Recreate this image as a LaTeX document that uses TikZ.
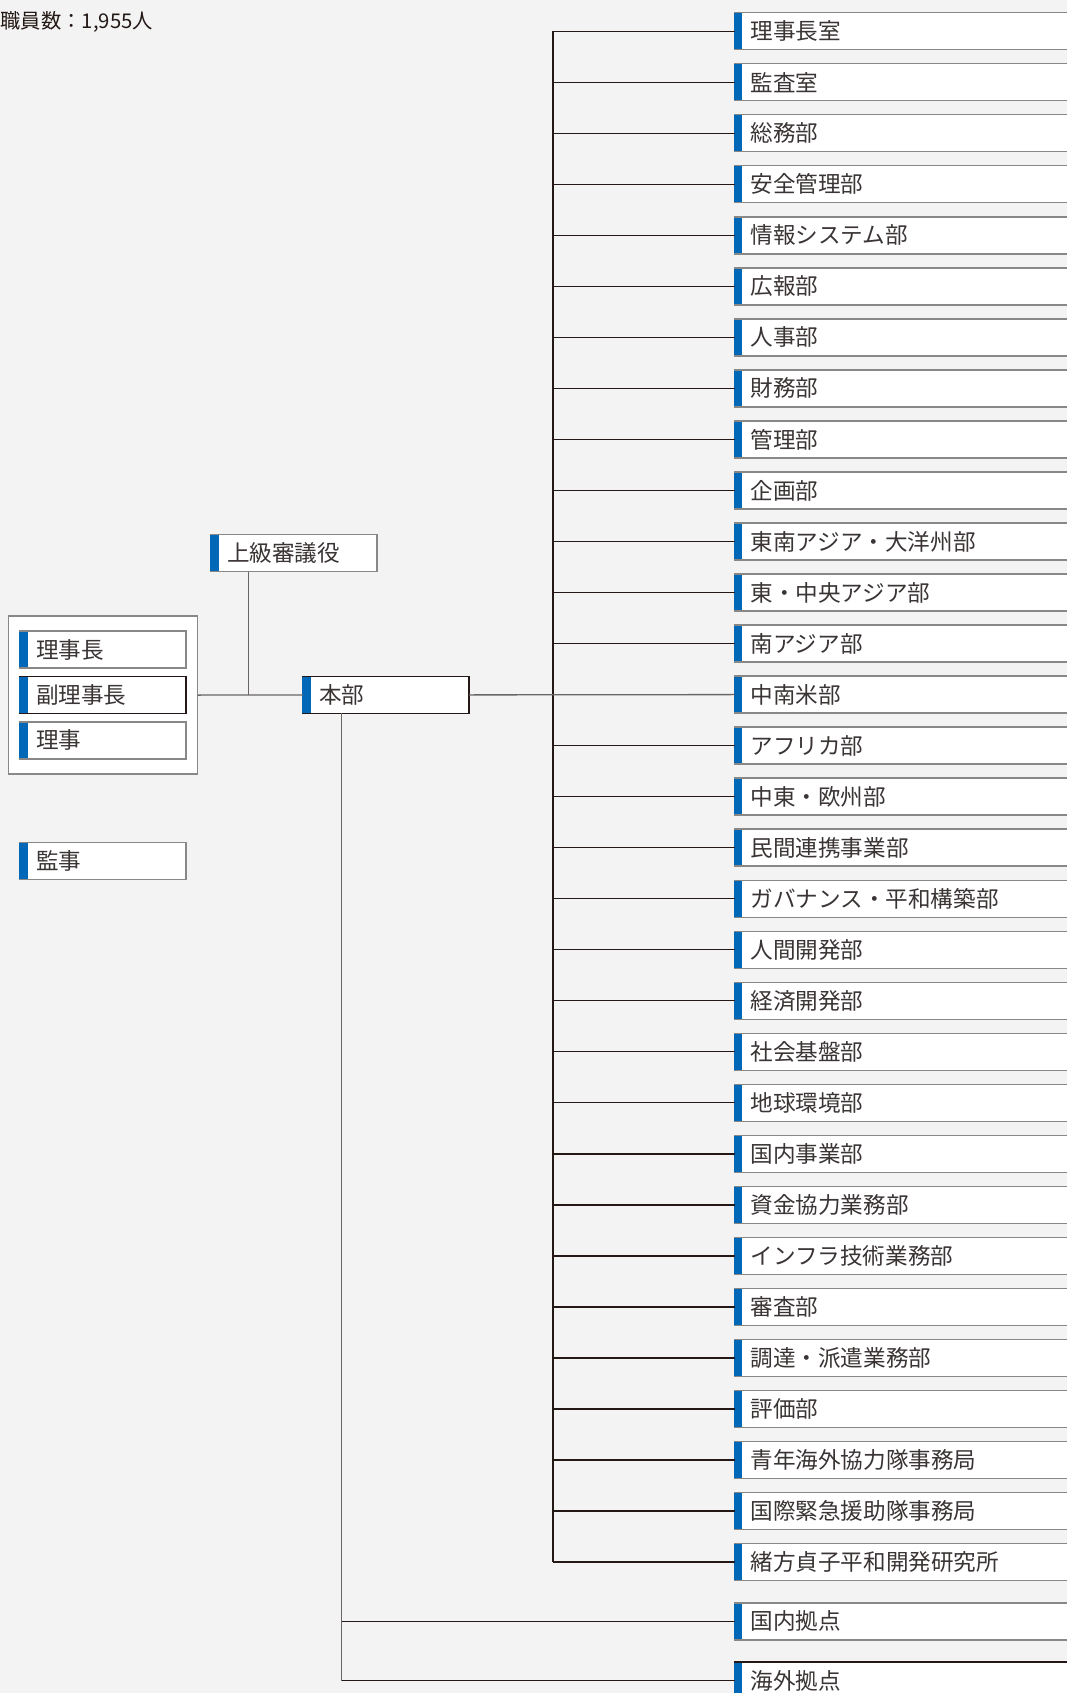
\documentclass[tikz,border=0pt]{standalone}
\usepackage{fontspec}
\setmainfont{Noto Sans CJK JP}
\definecolor{bg}{HTML}{F2F3F2}
\definecolor{jblue}{HTML}{0068B7}
\definecolor{bgray}{HTML}{8A8787}
\definecolor{ink}{HTML}{231815}
\definecolor{lgray}{HTML}{6A6666}
\definecolor{txt}{HTML}{3A3434}
\begin{document}
\begin{tikzpicture}[x=1pt,y=-1pt,
  box/.style={draw=bgray, line width=1.4pt, fill=white, outer sep=0pt,
    minimum height=37pt, inner xsep=16pt, inner ysep=0pt, align=left,
    anchor=west, text=txt, font=\fontsize{22.6}{23}\selectfont},
  rbox/.style={box, text width=330pt},
  lbox/.style={box, text width=134pt},
  dbox/.style={lbox, draw=ink},
  rline/.style={draw=ink, line width=1.3pt},
  lline/.style={draw=lgray, line width=1.3pt}]
\useasboundingbox (0,0) rectangle (1067,1693);
\fill[bg] (0,0) rectangle (1067,1693);
\clip (0,0) rectangle (1067,1693);

\node[anchor=west, inner sep=0pt, text=ink, font=\fontsize{20.3}{21}\selectfont] (staff) at (0.5,21.5) {職員数：1,955人};

% right column
\foreach \t [count=\i from 0] in {理事長室,監査室,総務部,安全管理部,情報システム部,広報部,人事部,財務部,管理部,企画部,東南アジア・大洋州部,東・中央アジア部,南アジア部,中南米部,アフリカ部,中東・欧州部,民間連携事業部,ガバナンス・平和構築部,人間開発部,経済開発部,社会基盤部,地球環境部,国内事業部,資金協力業務部,インフラ技術業務部,審査部,調達・派遣業務部,評価部,青年海外協力隊事務局,国際緊急援助隊事務局,緒方貞子平和開発研究所} {
  \node[rbox] (r\i) at (734.5,{31.2+51.03*\i}) {\t};
  \fill[jblue] ([xshift=-0.8pt,yshift=-0.7pt]r\i.north west) rectangle ([xshift=7.5pt,yshift=0.7pt]r\i.south west);
  \coordinate (t\i) at (553,{31.2+51.03*\i});
  \draw[rline] (t\i) -- (r\i.west);
}
\draw[rline] (t0) -- (t30);

% regional bases
\node[rbox] (dom) at (734.5,1621.4) {国内拠点};
\fill[jblue] ([xshift=-0.8pt,yshift=-0.7pt]dom.north west) rectangle ([xshift=7.5pt,yshift=0.7pt]dom.south west);
\node[rbox, draw=ink] (ovs) at (734.5,1680.5) {海外拠点};
\fill[jblue] ([xshift=-0.8pt,yshift=-0.7pt]ovs.north west) rectangle ([xshift=7.5pt,yshift=0.7pt]ovs.south west);

% executive group
\node[draw=bgray, line width=1.4pt, fill=white, outer sep=0pt, minimum width=189pt, minimum height=158pt] (exec) at (103.2,695.1) {};
\node[lbox] (pres) at (20,649.5) {理事長};
\fill[jblue] ([xshift=-0.8pt,yshift=-0.7pt]pres.north west) rectangle ([xshift=7.5pt,yshift=0.7pt]pres.south west);
\node[dbox] (vp) at (20,694.9) {副理事長};
\fill[jblue] ([xshift=-0.8pt,yshift=-0.7pt]vp.north west) rectangle ([xshift=7.5pt,yshift=0.7pt]vp.south west);
\node[lbox] (dir) at (20,740.3) {理事};
\fill[jblue] ([xshift=-0.8pt,yshift=-0.7pt]dir.north west) rectangle ([xshift=7.5pt,yshift=0.7pt]dir.south west);

\node[lbox] (aud) at (20,861.2) {監事};
\fill[jblue] ([xshift=-0.8pt,yshift=-0.7pt]aud.north west) rectangle ([xshift=7.5pt,yshift=0.7pt]aud.south west);

\node[lbox] (sen) at (211,553.2) {上級審議役};
\fill[jblue] ([xshift=-0.8pt,yshift=-0.7pt]sen.north west) rectangle ([xshift=7.5pt,yshift=0.7pt]sen.south west);

\node[dbox] (hq) at (303,694.9) {本部};
\fill[jblue] ([xshift=-0.8pt,yshift=-0.7pt]hq.north west) rectangle ([xshift=7.5pt,yshift=0.7pt]hq.south west);

% connectors on the left
\coordinate (j1) at (248.7,694.9);
\draw[lline] (exec.east) -- (hq.west);
\draw[lline] (sen.south -| j1) -- (j1);
\draw[lline] (hq.east) -- (r13.west);
\coordinate (h0) at (341.5,694.9);
\coordinate (hdom) at (341.5,1621.4);
\coordinate (hovs) at (341.5,1680.5);
\draw[lline] (hq.south -| h0) -- (hovs);
\draw[rline] (hdom) -- (dom.west);
\draw[rline] (hovs) -- (ovs.west);
\end{tikzpicture}
\end{document}
